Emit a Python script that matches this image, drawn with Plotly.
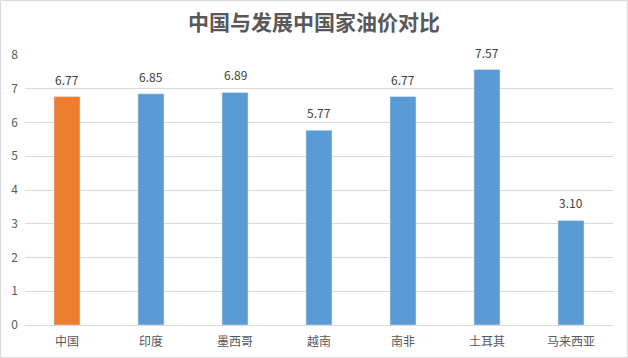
import plotly.graph_objects as go

categories = ["中国", "印度", "墨西哥", "越南", "南非", "土耳其", "马来西亚"]
values = [6.77, 6.85, 6.89, 5.77, 6.77, 7.57, 3.10]
highlight = "中国"
title_text = "中国与发展中国家油价对比"

W, H = 628, 358
ml, mr, mt, mb = 25, 15, 55, 33
pw, ph = W - ml - mr, H - mt - mb

colors = ["#ED7D31" if c == highlight else "#5B9BD5" for c in categories]

fig = go.Figure(go.Bar(
    x=categories, y=values, marker_color=colors, width=0.31,
    hoverinfo="x+y",
))

for c, v in zip(categories, values):
    fig.add_annotation(x=c, y=v, text=f"{v:.2f}", showarrow=False,
                       yanchor="bottom", yshift=7,
                       font=dict(size=12, color="#404040", family="Noto Sans CJK SC, sans-serif"))

fig.update_layout(
    width=W, height=H,
    margin=dict(l=ml, r=mr, t=mt, b=mb, autoexpand=False),
    paper_bgcolor="white", plot_bgcolor="white",
    title=dict(text=title_text, x=0.5, xanchor="center", y=1 - 23 / H, yanchor="middle",
               font=dict(size=21, color="#595959", family="Noto Sans CJK SC, sans-serif", weight="bold")),
    showlegend=False,
    font=dict(family="Noto Sans CJK SC, sans-serif", color="#595959", size=12),
    xaxis=dict(showgrid=False, showline=True, linecolor="#D9D9D9", linewidth=1,
               ticks="", tickfont=dict(size=12, color="#595959"), automargin=False,
               ticklabelstandoff=6, range=[-0.5, len(categories) - 0.5]),
    yaxis=dict(range=[0, 8], dtick=1, showgrid=True, gridcolor="#D9D9D9", gridwidth=1,
               zeroline=False, showline=False, ticks="", automargin=False,
               ticklabelstandoff=6,
               tickfont=dict(size=12, color="#595959"), tickformat="d"),
    shapes=[dict(type="rect", xref="paper", yref="paper",
                 x0=(0.5 - ml) / pw, x1=(W - 0.5 - ml) / pw,
                 y0=-(mb - 0.5) / ph, y1=(H - 0.5 - mb) / ph,
                 line=dict(color="#D9D9D9", width=1), layer="below")],
)

fig.write_html("out.html", config={"displayModeBar": False},
               post_script="document.body.style.margin='0';")
